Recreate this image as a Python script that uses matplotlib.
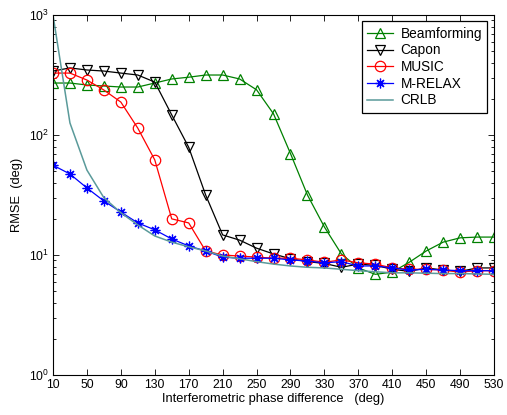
import numpy as np
import matplotlib
matplotlib.use("Agg")
import matplotlib.pyplot as plt
from matplotlib.ticker import LogLocator, NullFormatter

plt.rcParams["font.family"] = ["Liberation Sans", "DejaVu Sans"]
plt.rcParams["mathtext.fontset"] = "custom"
plt.rcParams["mathtext.rm"] = "Liberation Sans"
plt.rcParams["font.size"] = 8.8

# phase difference (deg), one sample every 20 deg
phase = np.arange(10, 531, 20)

beamforming = [271, 271, 261, 256, 251, 251, 271, 293, 303, 316, 316, 293, 238,
               150, 70, 31.6, 17.1, 10.2, 7.8, 6.9, 7.2, 8.7, 10.8, 12.8, 13.9, 14.1, 14.1]
capon = [341, 362, 348, 341, 328, 316, 276, 147, 79, 31.6, 14.7, 13.3, 11.4,
         10.2, 9.3, 8.8, 8.5, 7.9, 8.4, 8.2, 7.6, 7.3, 7.8, 7.5, 7.3, 7.8, 7.8]
music = [328, 328, 287, 237, 188, 114, 62, 20, 18.5, 10.8, 10, 9.8, 9.6,
         9.4, 9.4, 9.1, 8.7, 9.1, 8.6, 8.4, 7.8, 7.6, 7.6, 7.5, 7.2, 7.4, 7.4]
mrelax = [56, 47.3, 36.2, 28.2, 22.8, 18.5, 16.2, 13.6, 11.9, 10.8, 9.6, 9.4, 9.4,
          9.4, 9.1, 8.9, 8.6, 8.8, 8.1, 8.1, 7.8, 7.5, 7.6, 7.5, 7.4, 7.4, 7.4]
crlb = [1000, 126, 51, 30, 22.5, 17.8, 14.4, 12.8, 11.7, 10.8, 9.8, 9.3, 8.8,
        8.4, 8.1, 7.9, 7.8, 7.6, 7.4, 7.25, 7.1, 7.1, 7.05, 7.0, 7.0, 6.95, 6.9]

fig = plt.figure(figsize=(5.07, 4.15), dpi=100)
ax = fig.add_axes([0.1045, 0.0964, 0.870, 0.8675])

lw = 0.9
ax.plot(phase, beamforming, color="#008000", lw=lw, marker="^", ms=7.5,
        mfc="none", mew=0.9, label="Beamforming")
ax.plot(phase, capon, color="black", lw=lw, marker="v", ms=7.5,
        mfc="none", mew=0.9, label="Capon")
ax.plot(phase, music, color="red", lw=lw, marker="o", ms=7.5,
        mfc="none", mew=0.9, label="MUSIC")
ax.plot(phase, mrelax, color="blue", lw=lw, marker=(8, 2, 0), ms=7,
        mew=0.9, label="M-RELAX")
ax.plot(phase, crlb, color="#5a9a9a", lw=1.1, label="CRLB")

ax.set_yscale("log")
ax.set_xlim(10, 530)
ax.set_ylim(1, 1000)
ax.set_xticks(np.arange(10, 531, 40))
ax.yaxis.set_major_locator(LogLocator(base=10, numticks=10))
ax.yaxis.set_minor_locator(LogLocator(base=10, subs=np.arange(2, 10), numticks=10))
ax.yaxis.set_minor_formatter(NullFormatter())
ax.tick_params(which="both", direction="in", top=True, right=True)
ax.tick_params(which="major", length=4.5, width=0.6, pad=3)
ax.tick_params(which="minor", length=2.5, width=0.6)
for s in ax.spines.values():
    s.set_linewidth(0.8)

ax.set_xlabel("Interferometric phase difference   (deg)", labelpad=1, fontsize=9.3)
ax.set_ylabel("RMSE  (deg)", labelpad=4, fontsize=9.3)

leg = ax.legend(loc="upper right", bbox_to_anchor=(0.985, 0.983), fancybox=False,
                edgecolor="black", framealpha=1, handlelength=1.9,
                handletextpad=0.55, borderpad=0.4, labelspacing=0.2,
                borderaxespad=0, fontsize=9.8)
leg.get_frame().set_linewidth(0.9)

fig.savefig("out.png", dpi=100)
